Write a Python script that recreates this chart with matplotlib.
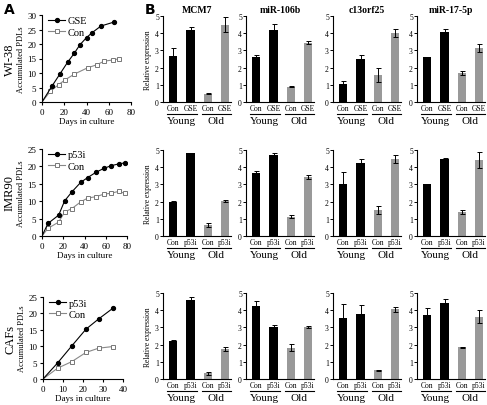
import matplotlib
matplotlib.use("Agg")
import matplotlib.pyplot as plt

plt.rcParams['font.family'] = ['Liberation Serif', 'DejaVu Serif']

# ---- panel A: growth curves ----
wi38_gse_days = [0, 9, 16, 23, 29, 34, 40, 45, 53, 65]
wi38_gse_pdl = [0, 5.5, 9.6, 13.7, 16.8, 19.7, 22.2, 23.9, 26.2, 27.6]
wi38_con_days = [0, 7.5, 15, 21, 29, 41, 49, 56, 64, 69]
wi38_con_pdl = [0, 3.7, 6.0, 7.7, 9.6, 11.8, 12.8, 14.1, 14.5, 14.9]

imr_days = [0, 5.6, 15.7, 21.3, 28.2, 36.4, 43, 50.8, 58, 65, 72, 77.7]
imr_p53i_pdl = [0, 3.6, 6.0, 10.1, 12.7, 15.4, 16.8, 18.3, 19.4, 20.2, 20.7, 21.0]
imr_con_pdl = [0, 2.2, 4.0, 6.9, 7.9, 9.8, 10.9, 11.3, 12.0, 12.3, 12.8, 12.3]

caf_days = [0, 7.3, 14.4, 21.5, 27.8, 35]
caf_p53i_pdl = [0, 4.9, 10.1, 15.2, 18.3, 21.6]
caf_con_pdl = [0, 3.3, 5.3, 8.1, 9.4, 9.9]

cell_lines = ['WI-38', 'IMR90', 'CAFs']
treatments = ['GSE', 'p53i', 'p53i']

# ---- panel B: relative expression (Young Con, Young trt, Old Con, Old trt) ----
genes = ['MCM7', 'miR-106b', 'c13orf25', 'miR-17-5p']
expr = [
    [[2.7, 4.2, 0.47, 4.5], [2.62, 4.2, 0.88, 3.45], [1.05, 2.52, 1.57, 4.0], [2.6, 4.07, 1.68, 3.15]],
    [[1.98, 4.8, 0.65, 2.05], [3.68, 4.72, 1.12, 3.45], [3.02, 4.25, 1.5, 4.48], [3.0, 4.45, 1.42, 4.42]],
    [[2.2, 4.58, 0.32, 1.73], [4.22, 3.03, 1.83, 3.05], [3.55, 3.78, 0.5, 4.05], [3.72, 4.42, 1.85, 3.63]],
]
errs = [
    [[0.45, 0.15, 0.03, 0.45], [0.12, 0.35, 0.03, 0.1], [0.2, 0.22, 0.4, 0.22], [0.03, 0.2, 0.12, 0.25]],
    [[0.05, 0.03, 0.12, 0.05], [0.08, 0.12, 0.1, 0.12], [0.72, 0.22, 0.22, 0.25], [0.03, 0.08, 0.12, 0.45]],
    [[0.08, 0.2, 0.06, 0.12], [0.3, 0.1, 0.22, 0.06], [0.8, 0.55, 0.05, 0.15], [0.42, 0.25, 0.02, 0.38]],
]
bar_colors = ['black', 'black', '#999999', '#999999']

W, H = 487, 406
fig = plt.figure(figsize=(W / 100, H / 100), dpi=100)


def box(l, t, r, b):
    return [l / W, 1 - b / H, (r - l) / W, (b - t) / H]


def clean(ax):
    for s in ['top', 'right']:
        ax.spines[s].set_visible(False)
    ax.spines['left'].set_linewidth(0.8)
    ax.spines['bottom'].set_linewidth(0.8)


# line plots
a_boxes = [(42, 16, 131, 103), (42, 150, 127, 237), (43, 298, 123, 380)]
a_data = [
    (wi38_gse_days, wi38_gse_pdl, wi38_con_days, wi38_con_pdl, 80, 30, [0, 20, 40, 60, 80]),
    (imr_days, imr_p53i_pdl, imr_days, imr_con_pdl, 80, 25, [0, 20, 40, 60, 80]),
    (caf_days, caf_p53i_pdl, caf_days, caf_con_pdl, 40, 25, [0, 10, 20, 30, 40]),
]
for i in range(3):
    ax = fig.add_axes(box(*a_boxes[i]))
    xt, yt, xc, yc, xmax, ymax, xticks = a_data[i]
    ax.plot(xc, yc, color='#888888', lw=0.8, marker='s', ms=2.8, mfc='white',
            mec='#777777', mew=0.7, markevery=list(range(1, len(xc))), label='Con')
    ax.plot(xt, yt, color='black', lw=0.8, marker='o', ms=2.8,
            markevery=list(range(1, len(xt))), label=treatments[i])
    ax.set_xlim(0, xmax)
    ax.set_ylim(0, ymax)
    ax.set_xticks(xticks)
    ax.set_yticks(range(0, ymax + 1, 5))
    ax.tick_params(labelsize=6.5, length=2.5, width=0.8, pad=1.5)
    ax.set_xlabel('Days in culture', fontsize=6.5, labelpad=1)
    ax.set_ylabel('Accumulated PDLs', fontsize=6, labelpad=2)
    clean(ax)
    h, l = ax.get_legend_handles_labels()
    ax.legend(h[::-1], l[::-1], loc='upper left', bbox_to_anchor=(0.0, 1.06),
              frameon=False, fontsize=7.5, handlelength=1.6, handletextpad=0.3,
              labelspacing=0.2, borderaxespad=0.2)
    cy = (a_boxes[i][1] + a_boxes[i][3]) / 2
    fig.text(10 / W, 1 - cy / H, cell_lines[i], rotation=90, fontsize=9,
             ha='center', va='center')

# bar plots
b_lefts = [163, 246, 333, 417]
b_rows = [(17, 103), (151, 237), (294, 380)]
for r in range(3):
    top, bot = b_rows[r]
    for g in range(4):
        ax = fig.add_axes(box(b_lefts[g], top, b_lefts[g] + 68, bot))
        ax.bar(range(4), expr[r][g], width=0.47, color=bar_colors,
               yerr=errs[r][g], error_kw=dict(ecolor='black', elinewidth=0.7, capsize=1.8, capthick=0.7))
        ax.set_xlim(-0.6, 3.35)
        ax.set_ylim(0, 5)
        ax.set_yticks(range(6))
        ax.set_xticks(range(4))
        ax.set_xticklabels(['Con', treatments[r], 'Con', treatments[r]])
        ax.tick_params(axis='x', length=0, labelsize=5.5, pad=1.5)
        ax.tick_params(axis='y', labelsize=5.5, length=2, width=0.7, pad=1)
        clean(ax)
        if g == 0:
            ax.set_ylabel('Relative expression', fontsize=5.5, labelpad=2)
        if r == 0:
            ax.set_title(genes[g], fontsize=7, fontweight='bold', pad=3)
        for x0, name in [(0.5, 'Young'), (2.5, 'Old')]:
            ax.plot([x0 - 0.85, x0 + 0.85], [-0.68, -0.68], color='black', lw=0.8,
                    clip_on=False, transform=ax.transData)
            ax.text(x0, -0.82, name, fontsize=8, ha='center', va='top')

fig.text(4 / W, 1 - 10 / H, 'A', fontsize=10, fontweight='bold', family='DejaVu Sans',
         ha='left', va='center')
fig.text(145 / W, 1 - 10 / H, 'B', fontsize=10, fontweight='bold', family='DejaVu Sans',
         ha='left', va='center')

fig.savefig('out.png', dpi=100)
